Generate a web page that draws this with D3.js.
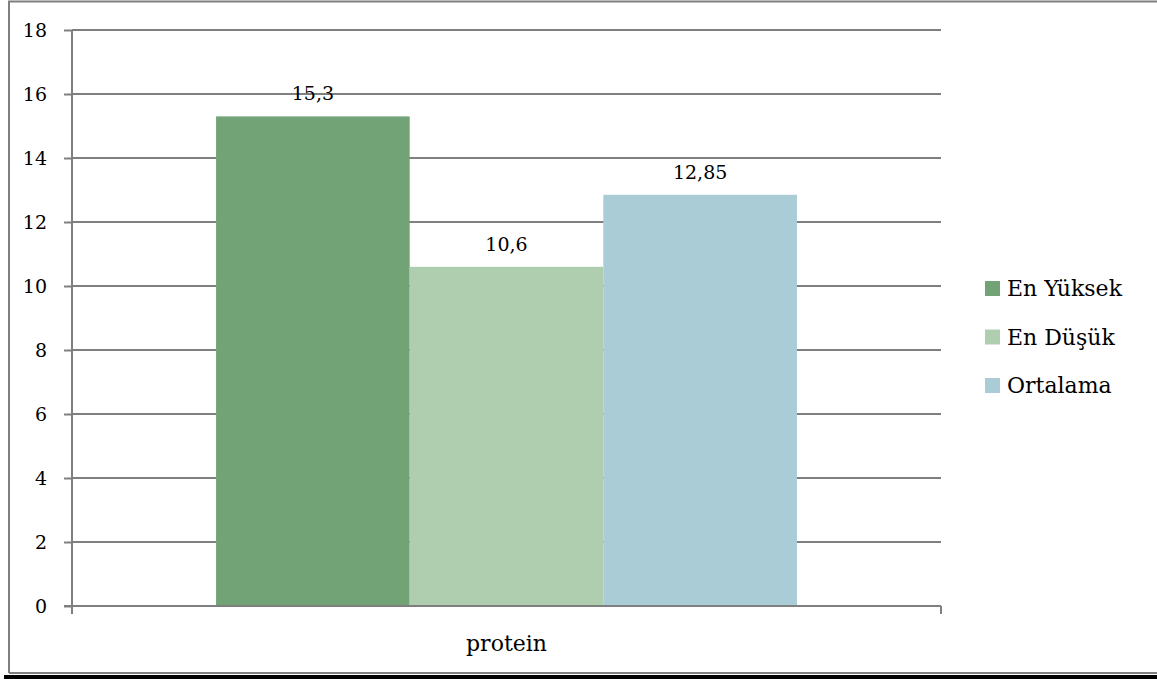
<!DOCTYPE html>
<html><head><meta charset="utf-8">
<script src="https://cdn.jsdelivr.net/npm/d3@7"></script>
<style>body{margin:0;background:#fff;} svg{display:block;}</style>
</head><body>
<svg id="c" width="1157" height="679"></svg>
<script>
const categories = ["protein"];
const seriesNames = ["En Yüksek", "En Düşük", "Ortalama"];
const seriesValues = [15.3, 10.6, 12.85];
const seriesLabels = ["15,3", "10,6", "12,85"];
const seriesColors = ["#71a376", "#afcdaf", "#a9ccd6"];
const yTicks = [0, 2, 4, 6, 8, 10, 12, 14, 16, 18];

const FONT = "DejaVu Serif";
const svg = d3.select("#c");
function txt(sel, size){ return sel.attr("font-family",FONT).attr("font-size",size).attr("fill","#000"); }

// frame
svg.append("path").attr("d","M9,673 L9,1.5 L1157,1.5").attr("fill","none").attr("stroke","#7f7f7f").attr("stroke-width",2);
svg.append("line").attr("x1",9).attr("x2",1157).attr("y1",673).attr("y2",673).attr("stroke","#7f7f7f").attr("stroke-width",2);
svg.append("rect").attr("x",4).attr("y",675).attr("width",1153).attr("height",4).attr("fill","#000");

const L=72, R=941, T=30, B=606;
const y = d3.scaleLinear().domain([0,18]).range([B,T]);
const x0 = d3.scaleBand().domain(categories).range([L,R]).paddingInner(0).paddingOuter(0.248);
const x1 = d3.scaleBand().domain(seriesNames).range([0,x0.bandwidth()]);

// gridlines
svg.append("g").selectAll("line").data(yTicks.filter(t=>t>0)).join("line")
  .attr("x1",L).attr("x2",R).attr("y1",d=>y(d)).attr("y2",d=>y(d))
  .attr("stroke","#7f7f7f").attr("stroke-width",2);

// bars
const g = svg.append("g");
categories.forEach(c=>{
  seriesNames.forEach((s,i)=>{
    g.append("rect").attr("x",x0(c)+x1(s)).attr("y",y(seriesValues[i]))
      .attr("width",x1.bandwidth()).attr("height",y(0)-y(seriesValues[i]))
      .attr("fill",seriesColors[i]);
  });
});

// y axis
const yAxis = d3.axisLeft(y).tickValues(yTicks).tickSize(8).tickPadding(17).tickFormat(d3.format("d"));
const ya = svg.append("g").attr("transform",`translate(${L},0)`).call(yAxis);
ya.attr("font-family",FONT);
ya.select(".domain").attr("stroke","#7f7f7f").attr("stroke-width",2).attr("d",`M0,${T}V${B+8}`);
ya.selectAll(".tick line").attr("stroke","#7f7f7f").attr("stroke-width",2);
txt(ya.selectAll(".tick text"),19).attr("dy","0.36em");

// x axis
const xa = svg.append("g").attr("transform",`translate(0,${B})`);
xa.append("line").attr("x1",L-8).attr("x2",R).attr("y1",0).attr("y2",0).attr("stroke","#7f7f7f").attr("stroke-width",2);
[L,R].forEach(px=>xa.append("line").attr("x1",px).attr("x2",px).attr("y1",0).attr("y2",8).attr("stroke","#7f7f7f").attr("stroke-width",2));
categories.forEach(c=>{
  txt(xa.append("text").attr("x",x0(c)+x0.bandwidth()/2).attr("y",45).attr("text-anchor","middle"),22).text(c);
});

// data labels
categories.forEach(c=>{
  seriesNames.forEach((s,i)=>{
    txt(svg.append("text").attr("x",x0(c)+x1(s)+x1.bandwidth()/2).attr("y",y(seriesValues[i])-16)
      .attr("text-anchor","middle"),19).text(seriesLabels[i]);
  });
});

// legend
const lg = svg.append("g").attr("transform","translate(985,281)");
seriesNames.forEach((s,i)=>{
  const row = lg.append("g").attr("transform",`translate(0,${i*48.5})`);
  row.append("rect").attr("x",0).attr("y",0).attr("width",15).attr("height",15).attr("fill",seriesColors[i]);
  txt(row.append("text").attr("x",22).attr("y",15),22).text(s);
});
</script>
</body></html>
